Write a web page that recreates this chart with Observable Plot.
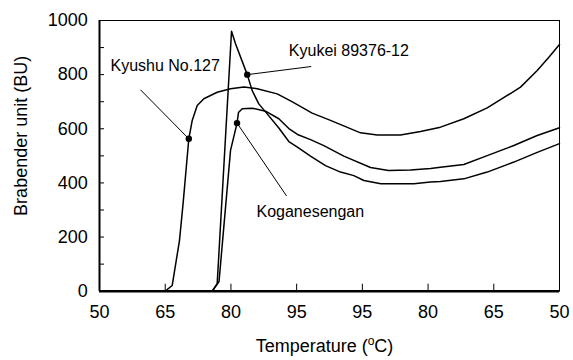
<!DOCTYPE html>
<html><head><meta charset="utf-8">
<script src="https://cdn.jsdelivr.net/npm/d3@7"></script>
<script src="https://cdn.jsdelivr.net/npm/@observablehq/plot@0.6"></script>
<style>body{margin:0;background:#fff}</style>
</head><body><div id="chart"></div>
<script>
// x is the position along the heating/cooling run, labelled by temperature
const xPositions = [0, 1, 2, 3, 4, 5, 6, 7];
const xTickLabels = ["50", "65", "80", "95", "95", "80", "65", "50"];
const yTicks = [0, 200, 400, 600, 800, 1000];
const yMinorTicks = [0, 100, 200, 300, 400, 500, 600, 700, 800, 900, 1000];

const kyushuX = [1.0, 1.106, 1.217, 1.274, 1.359, 1.411, 1.487, 1.588, 1.791, 1.994, 2.197, 2.400, 2.704, 2.922, 3.236, 3.515, 3.972, 4.226, 4.581, 4.885, 5.189, 5.544, 5.900, 6.205, 6.407, 6.661, 6.838, 7.0];
const kyushuY = [0, 21, 187, 329, 563, 631, 686, 711, 735, 748, 754, 748, 729, 701, 658, 631, 585, 577, 577, 590, 606, 637, 677, 723, 754, 815, 864, 911];

const koganeX = [1.715, 1.819, 1.994, 2.093, 2.115, 2.172, 2.324, 2.526, 2.729, 2.881, 3.013, 3.211, 3.414, 3.718, 4.124, 4.398, 4.733, 5.037, 5.189, 5.544, 5.900, 6.305, 6.661, 7.0];
const koganeY = [0, 36, 520, 621, 660, 674, 676, 665, 637, 601, 579, 560, 538, 499, 457, 446, 448, 453, 458, 468, 501, 538, 575, 604];

const kyukeiX = [1.715, 1.791, 2.009, 2.070, 2.248, 2.324, 2.424, 2.552, 2.729, 2.881, 3.006, 3.211, 3.439, 3.668, 3.870, 4.023, 4.282, 4.783, 5.037, 5.189, 5.544, 5.900, 6.305, 6.661, 7.0];
const kyukeiY = [0, 28, 960, 914, 800, 741, 692, 655, 603, 553, 533, 499, 464, 440, 427, 409, 397, 397, 403, 405, 415, 440, 477, 513, 545];

const labelNames = ["Kyushu No.127", "Kyukei 89376-12", "Koganesengan"];
const labelX = [0.167, 2.881, 2.389];
const labelY = [831, 889, 292];
const pointX = [1.359, 2.248, 2.093];
const pointY = [563, 800, 621];
const leaderX = [0.624, 3.222, 2.846];
const leaderY = [744, 830, 352];

const W = 573, H = 360, mL = 99, mR = 14, mT = 20, mB = 69.3;
const perPxX = 7 / (W - mL - mR);
const perPxY = 1000 / (H - mT - mB);

const rows = [];
[["Kyushu No.127", kyushuX, kyushuY], ["Koganesengan", koganeX, koganeY], ["Kyukei 89376-12", kyukeiX, kyukeiY]]
  .forEach(([name, xs, ys]) => xs.forEach((u, i) => rows.push({name, u, v: ys[i]})));
const annot = labelNames.map((name, i) => ({name, tx: labelX[i], ty: labelY[i], px: pointX[i], py: pointY[i], lx: leaderX[i], ly: leaderY[i]}));

const chart = Plot.plot({
  width: W, height: H,
  marginLeft: mL, marginRight: mR, marginTop: mT, marginBottom: mB,
  style: {fontFamily: "'Liberation Sans', Arial, sans-serif", fontSize: "18px", background: "white", color: "black"},
  x: {domain: [0, 7]},
  y: {domain: [0, 1000]},
  marks: [
    Plot.axisX(xPositions, {tickSize: 0, tickPadding: 14, tickFormat: d => xTickLabels[Math.round(d)], label: null, fontSize: 18}),
    Plot.axisY(yTicks, {tickSize: 0, tickPadding: 11.7, tickFormat: d => String(d), label: null, fontSize: 18}),
    Plot.ruleX(xPositions, {x: d => d, y1: 0, y2: 7 * perPxY, stroke: "black", strokeWidth: 1}),
    Plot.ruleY(yMinorTicks, {y: d => d, x1: 0, x2: 5 * perPxX, stroke: "black", strokeWidth: 1}),
    Plot.frame({stroke: "black", strokeWidth: 1}),
    Plot.ruleX([0], {stroke: "black", strokeWidth: 2}),
    Plot.ruleY([0], {stroke: "black", strokeWidth: 2.5}),
    Plot.line(rows, {x: "u", y: "v", z: "name", stroke: "black", strokeWidth: 1.5}),
    Plot.link(annot, {x1: "lx", y1: "ly", x2: "px", y2: "py", stroke: "black", strokeWidth: 1}),
    Plot.dot(annot, {x: "px", y: "py", r: 3.2, fill: "black", stroke: "none"}),
    Plot.text(annot, {x: "tx", y: "ty", text: "name", textAnchor: "start", fontSize: 16, fill: "black"}),
    Plot.text(["Brabender unit (BU)"], {frameAnchor: "left", textAnchor: "middle", dx: -78.5, dy: -20, rotate: -90, fontSize: 18, fill: "black"}),
    Plot.text(["Temperature (oC)"], {frameAnchor: "bottom", textAnchor: "middle", dx: -5, dy: 61, fontSize: 18, fill: "black"})
  ]
});
document.getElementById("chart").appendChild(chart);
// superscript "o" in the x title
chart.querySelectorAll("text").forEach(t => {
  if (t.textContent === "Temperature (oC)") {
    t.textContent = "";
    const ns = "http://www.w3.org/2000/svg";
    const a = document.createElementNS(ns, "tspan"); a.textContent = "Temperature (";
    const b = document.createElementNS(ns, "tspan"); b.textContent = "o"; b.setAttribute("font-size", "12"); b.setAttribute("dy", "-7");
    const c = document.createElementNS(ns, "tspan"); c.textContent = "C)"; c.setAttribute("dy", "7");
    t.append(a, b, c);
  }
});
</script>
</body></html>
